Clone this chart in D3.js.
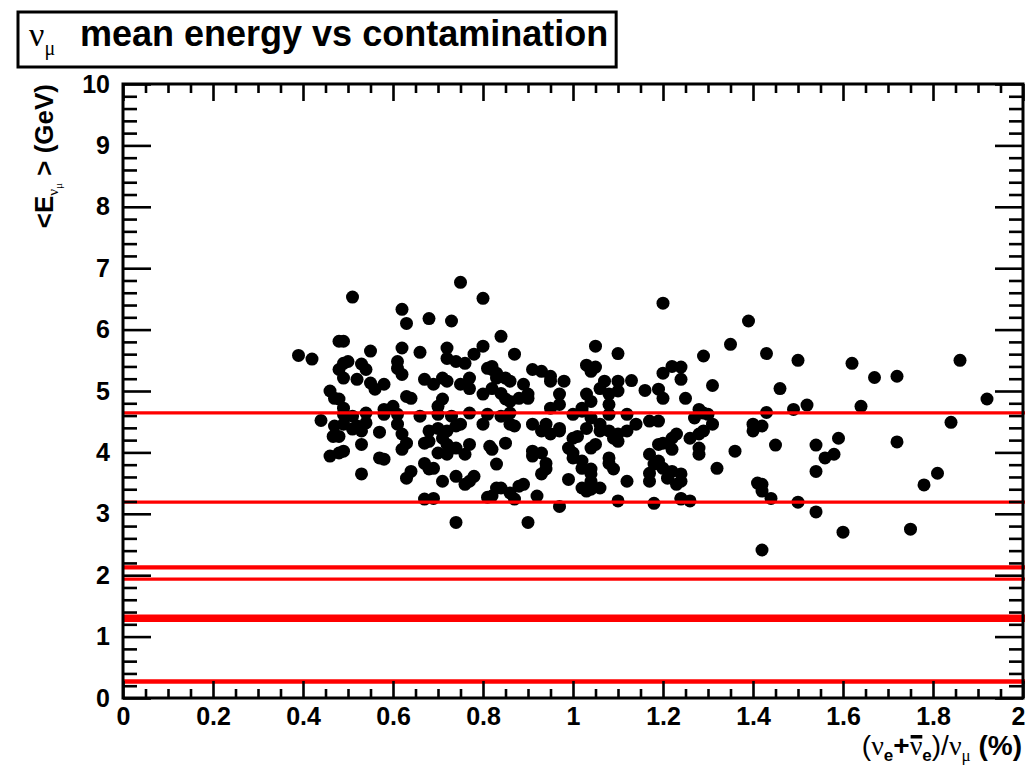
<!DOCTYPE html>
<html><head><meta charset="utf-8">
<script src="https://cdn.jsdelivr.net/npm/d3@7"></script>
<style>body{margin:0;background:#fff}svg{display:block}</style>
</head><body>
<svg id="c" width="1025" height="765"></svg>
<script>
// ---- data ----
const contamination = [
0.39,0.42,0.51,0.75,0.80,0.62,0.63,0.68,0.73,1.20,1.39,1.35,1.43,1.62,1.67,1.64,1.72,1.86,1.92,1.50,
1.52,1.49,1.46,1.43,1.42,1.45,1.54,1.59,1.56,1.58,1.54,1.72,1.78,1.81,1.84,1.42,1.42,1.44,1.50,1.54,
1.60,1.75,1.42,1.29,1.31,1.05,1.10,1.03,1.05,0.84,0.87,0.48,0.49,0.55,0.62,0.66,0.72,0.72,0.74,0.76,
0.78,0.80,0.82,0.81,0.49,0.50,0.48,0.49,0.53,0.54,0.52,0.61,0.61,0.62,0.55,0.56,0.58,0.67,0.69,0.71,
0.72,0.75,0.77,0.77,0.46,0.47,0.48,0.49,0.63,0.64,0.60,0.58,0.71,0.70,0.80,0.82,0.83,0.44,0.47,0.48,
0.467,0.49,0.51,0.52,0.54,0.53,0.57,0.61,0.62,0.63,0.62,0.53,0.46,0.48,0.49,0.57,0.58,0.53,0.64,0.63,
0.67,0.69,0.68,0.68,0.68,0.67,0.70,0.71,0.72,0.74,0.75,0.72,0.74,0.70,0.72,0.76,0.77,0.80,0.82,0.83,
0.71,0.74,0.77,0.78,0.76,0.67,0.69,0.81,0.83,0.74,0.815,0.85,0.84,0.86,0.87,0.91,0.91,0.93,0.94,0.94,
0.93,0.91,0.93,0.94,0.97,0.97,0.95,0.99,1.00,1.01,1.00,1.00,1.02,1.02,1.04,1.04,1.04,1.04,1.03,1.06,
1.06,1.05,1.04,1.08,1.09,1.10,1.10,1.12,1.14,1.17,1.19,1.08,1.09,1.08,1.12,1.17,1.18,1.19,1.17,1.17,
1.20,1.19,1.20,1.22,1.22,1.23,1.21,1.22,1.24,1.23,1.24,1.26,1.28,1.29,1.28,1.28,1.31,1.32,0.99,1.02,
1.03,1.04,1.06,0.84,0.86,0.88,0.89,0.82,0.87,0.92,0.97,1.10,1.18,1.24,1.26,1.24,0.90,1.04,0.91,0.93,
0.95,0.95,0.98,0.82,0.83,0.85,0.86,0.89,0.90,0.90,0.88,0.84,0.85,0.86,1.07,1.06,1.08,1.10,1.10,1.13,
1.16,1.19,1.20,1.20,1.22,1.24,1.24,1.25,0.97,0.97,0.95,1.03,1.04,1.02,1.08,1.28,1.29,1.36,1.40,1.40,
1.41,1.00,1.02,0.49,0.51,0.54,0.58,0.61,0.66,0.70,0.73,0.77,0.81,0.86,1.08,1.12,1.27,1.30
];
const meanEnergy = [
5.58,5.52,6.53,6.77,6.51,6.33,6.10,6.18,6.14,6.43,6.14,5.76,5.61,5.45,5.22,4.75,5.24,5.50,4.87,5.50,
4.77,4.70,5.04,4.65,4.43,4.12,4.12,4.23,3.91,3.97,3.69,4.17,3.47,3.66,4.49,3.48,3.37,3.25,3.19,3.03,
2.70,2.75,2.41,5.57,5.09,5.73,5.61,5.42,5.39,5.89,5.60,5.81,5.81,5.65,5.70,5.63,5.70,5.53,5.48,5.45,
5.60,5.73,5.35,5.37,5.45,5.48,5.35,5.21,5.44,5.35,5.19,5.48,5.37,5.27,5.13,5.03,5.11,5.19,5.11,5.21,
5.16,5.11,5.21,5.04,5.00,4.88,4.87,4.72,4.91,4.88,4.75,4.70,4.87,4.75,4.95,5.04,5.21,4.52,4.43,4.26,
4.26,4.46,4.38,4.43,4.48,4.35,4.33,4.46,4.30,4.15,4.05,4.13,3.94,3.99,4.02,3.91,3.89,3.65,3.69,3.58,
3.82,3.74,3.73,4.35,4.18,4.15,4.39,4.23,4.35,4.43,4.46,4.13,4.07,3.99,3.97,3.97,4.13,4.46,4.05,3.81,
3.53,3.61,3.53,3.61,3.48,3.24,3.25,3.27,3.42,2.86,4.10,4.15,4.59,4.46,4.43,4.02,3.94,3.99,3.82,3.73,
3.65,4.46,4.35,4.46,4.39,4.35,4.30,4.07,4.23,4.26,3.99,3.91,3.86,3.74,3.73,3.65,3.53,4.56,4.39,4.46,
4.35,4.13,4.07,4.35,4.23,4.30,4.18,4.35,4.46,4.51,4.51,3.82,3.73,3.91,3.53,3.97,3.81,3.86,3.66,3.53,
3.74,4.13,4.15,4.23,4.05,4.30,3.58,3.69,3.65,3.48,3.53,4.23,4.30,4.35,4.07,3.97,4.46,3.74,3.56,3.42,
3.37,3.40,3.42,3.42,3.34,3.45,3.48,3.29,3.24,3.29,3.12,3.21,3.17,3.24,3.21,3.25,2.86,5.32,5.35,5.32,
5.24,5.16,5.16,5.40,5.29,5.21,5.16,5.11,4.95,4.88,4.88,4.96,4.87,4.83,5.16,5.04,4.95,5.16,5.00,5.17,
5.01,5.03,4.88,5.29,5.40,5.39,5.19,4.88,4.95,4.78,4.72,4.95,4.83,4.72,4.78,4.70,4.64,4.02,4.35,4.46,
3.50,4.62,4.67,4.62,4.59,4.64,4.62,4.62,4.59,4.62,4.59,4.64,4.62,4.64,4.62,4.62,4.56,4.62
];
const cutLevels = [4.645, 3.19, 2.12, 2.135, 1.935, 1.265, 1.30, 1.335, 0.26, 0.28];
const xTicks = [0,0.2,0.4,0.6,0.8,1.0,1.2,1.4,1.6,1.8,2.0];
const xTickLabels = ["0","0.2","0.4","0.6","0.8","1","1.2","1.4","1.6","1.8","2"];
const yTicks = [0,1,2,3,4,5,6,7,8,9,10];
const yTickLabels = ["0","1","2","3","4","5","6","7","8","9","10"];
const xDomain = [0, 2];
const yDomain = [0, 10];

// ---- layout ----
const svg = d3.select("#c");
const L = 123, R = 1023, T = 84, B = 698;
const x = d3.scaleLinear().domain(xDomain).range([L, R]);
const y = d3.scaleLinear().domain(yDomain).range([B, T]);
const font = "'Liberation Sans', Arial, Helvetica, sans-serif";
const sym = "'Liberation Serif', 'DejaVu Serif', serif";

// points
svg.append("g").selectAll("circle")
  .data(contamination.map((c,i)=>[c, meanEnergy[i]]))
  .join("circle")
  .attr("cx", d=>x(d[0])).attr("cy", d=>y(d[1])).attr("r", 6.5).attr("fill", "#000");

// red lines
svg.append("g").selectAll("line").data(cutLevels).join("line")
  .attr("x1", L).attr("x2", 1025).attr("y1", d=>y(d)).attr("y2", d=>y(d))
  .attr("stroke", "#ff0000").attr("stroke-width", 3.2);

// minor ticks
const xMinor = d3.range(0, 2.0001, 0.05).filter(v => Math.abs(v*5 - Math.round(v*5)) > 1e-6);
const yMinor = d3.range(0, 10.0001, 0.2).filter(v => Math.abs(v - Math.round(v)) > 1e-6);

function styleAxis(g){
  g.select(".domain").remove();
  g.selectAll("line").attr("stroke", "#000").attr("stroke-width", 2.6);
  g.selectAll("text").attr("font-family", font).attr("font-weight", "bold").attr("font-size", 25).attr("fill", "#000");
}
const xAxisG = svg.append("g").attr("transform", `translate(0,${B})`)
  .call(d3.axisBottom(x).tickValues(xTicks).tickSize(-17).tickPadding(9).tickFormat((d,i)=>xTickLabels[i])).call(styleAxis);
// keep the last label inside the page edge
xAxisG.selectAll(".tick text").filter(d => d === xDomain[1]).attr("text-anchor", "end").attr("x", 2);
svg.append("g").attr("transform", `translate(0,${B})`)
  .call(d3.axisBottom(x).tickValues(xMinor).tickSize(-9).tickFormat("")).call(styleAxis);
svg.append("g").attr("transform", `translate(0,${T})`)
  .call(d3.axisTop(x).tickValues(xTicks).tickSize(-17).tickFormat("")).call(styleAxis);
svg.append("g").attr("transform", `translate(0,${T})`)
  .call(d3.axisTop(x).tickValues(xMinor).tickSize(-9).tickFormat("")).call(styleAxis);
svg.append("g").attr("transform", `translate(${L},0)`)
  .call(d3.axisLeft(y).tickValues(yTicks).tickSize(-28).tickPadding(13).tickFormat((d,i)=>yTickLabels[i])).call(styleAxis);
svg.append("g").attr("transform", `translate(${L},0)`)
  .call(d3.axisLeft(y).tickValues(yMinor).tickSize(-14).tickFormat("")).call(styleAxis);
svg.append("g").attr("transform", `translate(${R},0)`)
  .call(d3.axisRight(y).tickValues(yTicks).tickSize(-28).tickFormat("")).call(styleAxis);
svg.append("g").attr("transform", `translate(${R},0)`)
  .call(d3.axisRight(y).tickValues(yMinor).tickSize(-14).tickFormat("")).call(styleAxis);

// frame
svg.append("rect").attr("x", L).attr("y", T).attr("width", R-L).attr("height", B-T)
  .attr("fill", "none").attr("stroke", "#000").attr("stroke-width", 3);

// title
const tg = svg.append("g");
const box = tg.append("rect").attr("x", 18).attr("y", 12).attr("height", 55)
  .attr("fill", "#fff").attr("stroke", "#000").attr("stroke-width", 3);
const tt = tg.append("text").attr("x", 29).attr("y", 46).attr("font-family", font).attr("fill", "#000");
tt.append("tspan").attr("font-family", sym).attr("font-size", 34).text("ν");
tt.append("tspan").attr("font-family", sym).attr("font-size", 20).attr("dy", 9).text("μ");
tt.append("tspan").attr("x", 80).attr("dy", -9).attr("font-weight", "bold").attr("font-size", 36).text("mean energy vs contamination");
const bb = tt.node().getBBox();
box.attr("width", bb.x + bb.width + 8 - 18);

// y title
const yt = svg.append("text").attr("transform", `translate(53,${T}) rotate(-90)`)
  .attr("text-anchor", "end").attr("font-family", font).attr("font-weight", "bold").attr("font-size", 26).attr("fill", "#000");
yt.append("tspan").text("<E");
yt.append("tspan").attr("font-family", sym).attr("font-weight", "normal").attr("font-size", 15).attr("dy", 5).text("ν");
yt.append("tspan").attr("font-family", sym).attr("font-weight", "normal").attr("font-size", 11).attr("dy", 4).text("μ");
yt.append("tspan").attr("dy", -9).text(" > (GeV)");

// x title
const xBase = 755;
const xt = svg.append("text").attr("x", 1022).attr("y", xBase).attr("text-anchor", "end")
  .attr("font-family", font).attr("font-weight", "bold").attr("font-size", 28).attr("fill", "#000");
xt.append("tspan").attr("font-weight", "normal").text("(");
xt.append("tspan").attr("font-family", sym).attr("font-weight", "normal").text("ν");
xt.append("tspan").attr("font-size", 17).attr("dy", 6).text("e");
xt.append("tspan").attr("dy", -6).text("+");
const nubar = xt.append("tspan").attr("font-family", sym).attr("font-weight", "normal").text("ν");
xt.append("tspan").attr("font-size", 17).attr("dy", 6).text("e");
xt.append("tspan").attr("font-weight", "normal").attr("dy", -6).text(")/");
xt.append("tspan").attr("font-family", sym).attr("font-weight", "normal").text("ν");
xt.append("tspan").attr("font-family", sym).attr("font-weight", "normal").attr("font-size", 17).attr("dy", 6).text("μ");
xt.append("tspan").attr("dy", -6).text(" (%)");
// anti-neutrino bar over the second ν
let nb;
try { nb = nubar.node().getBBox(); } catch(e) { nb = null; }
if (nb && nb.width > 0) {
  svg.append("rect").attr("x", nb.x + 1).attr("y", xBase - 20).attr("width", nb.width - 1).attr("height", 3.5).attr("fill", "#000");
}
</script>
</body></html>
